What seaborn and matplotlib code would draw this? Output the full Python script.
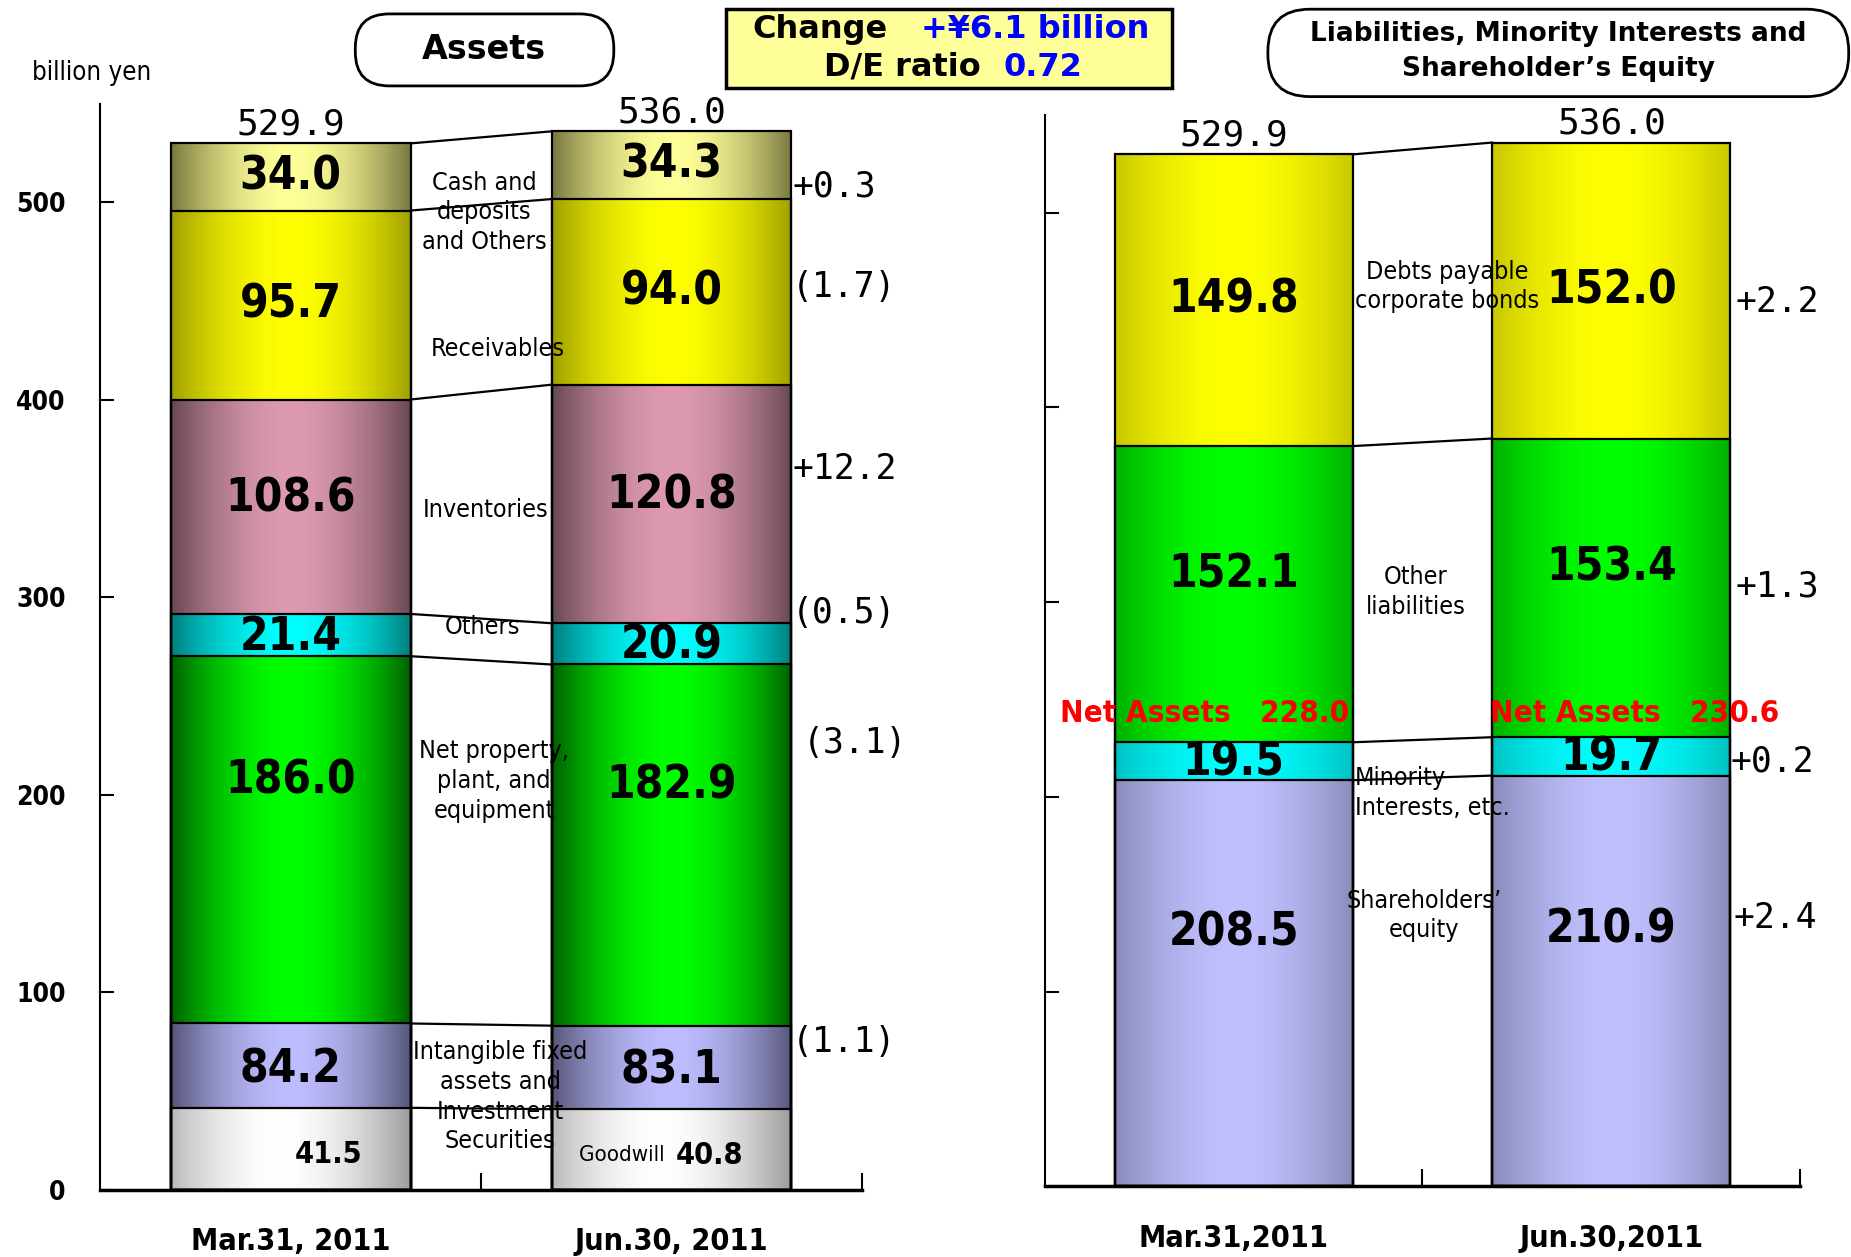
import numpy as np
import pandas as pd
import matplotlib
matplotlib.use("Agg")
import matplotlib.pyplot as plt
import seaborn as sns
from matplotlib.colors import to_rgb
from matplotlib.patches import FancyBboxPatch, Rectangle

# ---- data (billion yen) ----
dates_left = ["Mar.31, 2011", "Jun.30, 2011"]
dates_right = ["Mar.31,2011", "Jun.30,2011"]

# assets; intangible already includes goodwill
goodwill = [41.5, 40.8]
intangible = [84.2, 83.1]
ppe = [186.0, 182.9]
other_assets = [21.4, 20.9]
inventories = [108.6, 120.8]
receivables = [95.7, 94.0]
cash = [34.0, 34.3]

# liabilities, minority interests and equity
equity = [208.5, 210.9]
minority = [19.5, 19.7]
other_liab = [152.1, 153.4]
debts = [149.8, 152.0]

change_total = "+¥6.1 billion"
de_ratio = "0.72"

asset_names = ["Cash and\ndeposits\nand Others", "Receivables", "Inventories", "Others",
               "Net property,\nplant, and\nequipment", "Intangible fixed\nassets and\nInvestment\nSecurities"]
liab_names = ["Debts payable\ncorporate bonds", "Other\nliabilities", "Minority\nInterests, etc.",
              "Shareholders’\nequity"]

sns.set_theme(style="white")
plt.rcParams["font.family"] = ["DejaVu Sans"]
for key in ["text.color", "axes.labelcolor", "xtick.color", "ytick.color", "axes.edgecolor"]:
    plt.rcParams[key] = "black"

W = 0.63
COND = dict(fontstretch="condensed")


def gradient(edge, center, c=0.5, p=1.8):
    u = np.linspace(0, 1, 256)
    d = np.abs(u - c) / max(c, 1 - c)
    t = 1 - d ** p
    e = np.array(to_rgb(edge))
    m = np.array(to_rgb(center))
    return (e + (m - e) * t[:, None])[None, :, :]


def fmt_change(v):
    v = round(v, 1)
    return f"+{v:.1f}" if v >= 0 else f"({-v:.1f})"


def draw_stack(ax, dates, segs, grads):
    segs = np.array(segs)
    tops = segs.cumsum(axis=0)
    bottoms = tops - segs
    n = len(segs)
    df = pd.DataFrame({"date": np.tile(dates, n), "layer": np.repeat(np.arange(n), 2),
                       "top": tops.ravel()})
    for k in range(n - 1, -1, -1):
        n0 = len(ax.patches)
        sns.barplot(data=df[df.layer == k], x="date", y="top", order=dates, width=W,
                    color="white", edgecolor="black", linewidth=1.6, errorbar=None, ax=ax)
        new = sorted(ax.patches[n0:], key=lambda q: q.get_x())
        for j, p in enumerate(new):
            x0, w = p.get_x(), p.get_width()
            ax.imshow(gradient(*grads[k]), extent=(x0, x0 + w, bottoms[k, j], tops[k, j]),
                      aspect="auto", interpolation="bilinear", zorder=2)
            p.set_facecolor("none")
            p.set_zorder(5)
    for k in range(n):
        ax.plot([W / 2, 1 - W / 2], [tops[k, 0], tops[k, 1]], color="black", lw=1.6, zorder=5)
    return tops, bottoms


def style_axis(ax, dates, ylabels=True):
    ax.set_xlim(-0.5, 1.5)
    ax.set_ylim(0, 550)
    ax.set_xlabel("")
    ax.set_ylabel("")
    for s in ["top", "right"]:
        ax.spines[s].set_visible(False)
    ax.spines["left"].set_linewidth(1.5)
    ax.spines["bottom"].set_linewidth(2.5)
    ax.set_xticks([0.5, 1.5], labels=["", ""])
    ax.set_xticks([0, 1], labels=dates, minor=True)
    ax.tick_params(axis="x", which="major", bottom=True, direction="in", length=12, width=1.5)
    ax.tick_params(axis="x", which="minor", bottom=True, length=0, pad=27)
    for t in ax.get_xticklabels(minor=True):
        t.set_fontsize(22)
        t.set_fontweight("bold")
        t.set_fontstretch("condensed")
    if ylabels:
        ax.set_yticks(range(0, 501, 100))
        ax.tick_params(axis="y", left=True, direction="in", length=10, width=1.5, pad=25,
                       labelsize=19)
        for t in ax.get_yticklabels():
            t.set_fontweight("bold")
            t.set_fontstretch("condensed")
    else:
        ax.set_yticks(range(100, 501, 100), labels=[""] * 5)
        ax.tick_params(axis="y", left=True, direction="in", length=10, width=1.5)
    ax.grid(False)


fig = plt.figure(figsize=(18.51, 12.57), dpi=100)
ax1 = fig.add_axes([0.0542, 0.0535, 0.4114, 0.864])
ax2 = fig.add_axes([0.5644, 0.0563, 0.4082, 0.852])

# ---- assets (bottom -> top) ----
a_segs = [goodwill, np.subtract(intangible, goodwill), ppe, other_assets, inventories, receivables, cash]
a_grads = [("#9c9c9c", "#ffffff", 0.45), ("#56567a", "#bdbdff"), ("#006000", "#00ff00"),
           ("#007f7f", "#00ffff"), ("#684852", "#dd9ab0"), ("#a0a000", "#ffff00"),
           ("#787840", "#ffff99")]
a_tops, a_bots = draw_stack(ax1, dates_left, a_segs, a_grads)
a_vals = [intangible, ppe, other_assets, inventories, receivables, cash]
a_dy = [-2, 30, -1, 4, 0, 0]
for k, vals in enumerate(a_vals):
    seg = k + 1
    for j in range(2):
        yc = (a_tops[seg, j] + a_bots[seg, j]) / 2 + a_dy[k]
        ax1.text(j, yc, f"{vals[j]:.1f}", ha="center", va="center", fontsize=33,
                 fontweight="bold", zorder=10, **COND)
for j in range(2):
    ax1.text(j + 0.01, goodwill[j] / 2 - 3, f"{goodwill[j]:.1f}", ha="left", va="center",
             fontsize=22, fontweight="bold", zorder=10, **COND)
ax1.text(1.0, goodwill[1] / 2 - 3, "Goodwill ", ha="right", va="center", fontsize=16,
         zorder=10, **COND)
for j in range(2):
    ax1.text(j, a_tops[-1, j] + 1, f"{a_tops[-1, j]:.1f}", ha="center", va="bottom",
             fontsize=26, family="DejaVu Sans Mono", zorder=10)

# category names between the bars, top -> bottom
a_name_xy = [(0.509, 495), (0.543, 426), (0.512, 344), (0.503, 285), (0.534, 207), (0.55, 47)]
for name, (x, y) in zip(asset_names, a_name_xy):
    ax1.text(x, y, name, ha="center", va="center", fontsize=18, linespacing=1.3,
             zorder=10, **COND)

# changes, top -> bottom
a_chg = [np.subtract(cash[1], cash[0]), np.subtract(receivables[1], receivables[0]),
         np.subtract(inventories[1], inventories[0]), np.subtract(other_assets[1], other_assets[0]),
         np.subtract(ppe[1], ppe[0]), np.subtract(intangible[1], intangible[0])]
a_chg_xy = [(1.317, 508), (1.317, 457), (1.317, 365), (1.317, 292), (1.345, 226), (1.317, 75)]
for v, (x, y) in zip(a_chg, a_chg_xy):
    ax1.text(x, y, fmt_change(v), ha="left", va="center", fontsize=25,
             family="DejaVu Sans Mono", zorder=10)

style_axis(ax1, dates_left, ylabels=True)

# ---- liabilities + equity (bottom -> top) ----
l_segs = [equity, minority, other_liab, debts]
l_grads = [("#8a8aba", "#c0c0ff"), ("#00c2c2", "#00ffff"), ("#00b000", "#00ff00"),
           ("#c8c800", "#ffff00")]
l_tops, l_bots = draw_stack(ax2, dates_right, l_segs, l_grads)
l_dy = [26, -1, 10, 0]
for k, vals in enumerate(l_segs):
    for j in range(2):
        yc = (l_tops[k, j] + l_bots[k, j]) / 2 + l_dy[k]
        ax2.text(j, yc, f"{vals[j]:.1f}", ha="center", va="center", fontsize=33,
                 fontweight="bold", zorder=10, **COND)
for j in range(2):
    ax2.text(j, l_tops[-1, j] + 1, f"{l_tops[-1, j]:.1f}", ha="center", va="bottom",
             fontsize=26, family="DejaVu Sans Mono", zorder=10)

l_name_xy = [(0.566, 462), (0.481, 305), (0.322, 202), (0.503, 139)]
for name, (x, y) in zip(liab_names, l_name_xy):
    ha = "left" if name.startswith("Minority") else "center"
    ax2.text(x, y, name, ha=ha, va="center", fontsize=18, linespacing=1.3, zorder=10, **COND)

l_chg = [np.subtract(debts[1], debts[0]), np.subtract(other_liab[1], other_liab[0]),
         np.subtract(minority[1], minority[0]), np.subtract(equity[1], equity[0])]
l_chg_xy = [(1.328, 454), (1.328, 308), (1.316, 218), (1.322, 138)]
for v, (x, y) in zip(l_chg, l_chg_xy):
    ax2.text(x, y, fmt_change(v), ha="left", va="center", fontsize=25,
             family="DejaVu Sans Mono", zorder=10)

net_assets = np.add(equity, minority)
for j, x in enumerate([-0.459, 0.678]):
    ax2.text(x, 243, f"Net Assets   {net_assets[j]:.1f}", ha="left", va="center", fontsize=22.5,
             fontweight="bold", color="#ff0000", zorder=11, **COND)

style_axis(ax2, dates_right, ylabels=False)

# ---- header boxes ----
fig.add_artist(FancyBboxPatch((3.553, 11.711), 2.585, 0.72, boxstyle="round,pad=0,rounding_size=0.34",
                              transform=fig.dpi_scale_trans, fc="white", ec="black", lw=2))
fig.text(0.2615, 0.9606, "Assets", ha="center", va="center", fontsize=24, fontweight="bold")

fig.add_artist(FancyBboxPatch((12.679, 11.604), 5.808, 0.874, boxstyle="round,pad=0,rounding_size=0.42",
                              transform=fig.dpi_scale_trans, fc="white", ec="black", lw=2))
fig.text(0.8418, 0.9587, "Liabilities, Minority Interests and\nShareholder’s Equity", ha="center",
         va="center", fontsize=19, fontweight="bold", linespacing=1.45)

fig.add_artist(Rectangle((7.26, 11.687), 4.462, 0.791, transform=fig.dpi_scale_trans,
                         fc="#ffff99", ec="black", lw=2.5))
fig.text(0.4062, 0.9765, "Change", ha="left", va="center", fontsize=23, fontweight="bold")
fig.text(0.4974, 0.9765, change_total, ha="left", va="center", fontsize=23, fontweight="bold",
         color="#0000ff")
fig.text(0.4452, 0.9465, "D/E ratio", ha="left", va="center", fontsize=23, fontweight="bold")
fig.text(0.5421, 0.9465, de_ratio, ha="left", va="center", fontsize=23, fontweight="bold",
         color="#0000ff")

fig.text(0.0172, 0.9418, "billion yen", ha="left", va="center", fontsize=18.5, **COND)

fig.savefig("out.png", dpi=100)
